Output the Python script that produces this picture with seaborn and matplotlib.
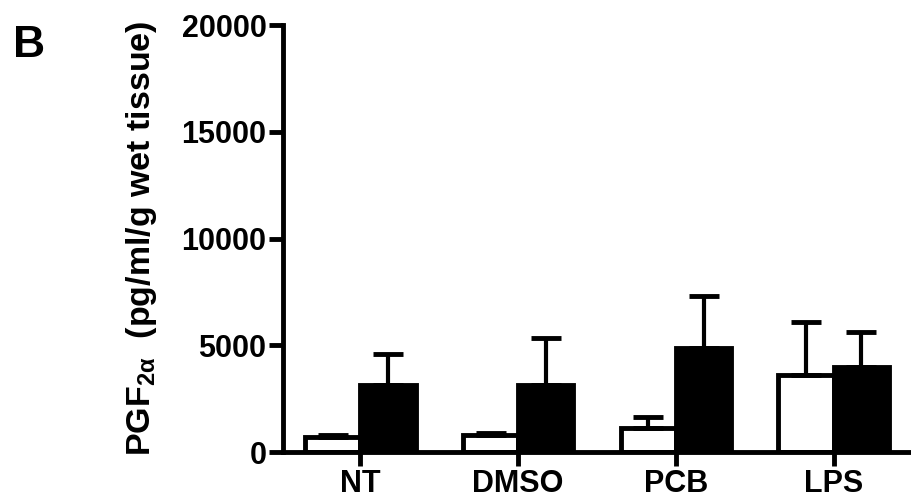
import pandas as pd
import seaborn as sns
import matplotlib.pyplot as plt
import numpy as np

# values
groups = ["NT", "DMSO", "PCB", "LPS"]
whiteMeans = [700, 800, 1140, 3620]
whiteErrs = [110, 90, 480, 2490]
blackMeans = [3120, 3140, 4890, 3980]
blackErrs = [1460, 2190, 2440, 1620]
yTicks = [0, 5000, 10000, 15000, 20000]

sns.set_theme(style="ticks", rc={
    "text.color": "black", "axes.labelcolor": "black", "axes.edgecolor": "black",
    "xtick.color": "black", "ytick.color": "black",
})
plt.rcParams['font.family'] = ['Liberation Sans', 'DejaVu Sans']
plt.rcParams['font.weight'] = 'bold'
plt.rcParams['mathtext.fontset'] = 'custom'
plt.rcParams['mathtext.rm'] = 'Liberation Sans:bold'
plt.rcParams['mathtext.it'] = 'Liberation Sans:bold'
plt.rcParams['mathtext.bf'] = 'Liberation Sans:bold'

df = pd.DataFrame({
    "group": groups * 2,
    "series": ["white"] * 4 + ["black"] * 4,
    "value": whiteMeans + blackMeans,
    "err": whiteErrs + blackErrs,
})

fig = plt.figure(figsize=(9.11, 5.01), dpi=100)
ax = fig.add_axes([0.3107, 0.0978, 0.6893, 0.852])

lw = 3.5
sns.barplot(data=df, x="group", y="value", hue="series", hue_order=["white", "black"],
            palette={"white": "white", "black": "black"}, width=0.7, errorbar=None,
            edgecolor="black", linewidth=lw, legend=False, ax=ax)

# error bars (upper only) positioned on the bars seaborn drew
bars = [p for p in ax.patches]
xs = [p.get_x() + p.get_width() / 2 for p in bars]
hs = [p.get_height() for p in bars]
errs = whiteErrs + blackErrs
ax.errorbar(xs, hs, yerr=[np.zeros(len(errs)), errs], fmt="none", ecolor="black",
            elinewidth=3, capsize=10.5, capthick=3.5, zorder=1)

ax.set_ylim(0, 20000)
ax.set_xlim(-0.49, 3.49)
ax.set_yticks(yTicks)
ax.set_yticklabels([str(t) for t in yTicks])
ax.tick_params(axis="both", direction="out", length=10, width=lw, labelsize=22, pad=2)
for lab in ax.get_xticklabels() + ax.get_yticklabels():
    lab.set_fontweight("bold")

sns.despine(ax=ax)
ax.spines["left"].set_linewidth(lw)
ax.spines["bottom"].set_linewidth(lw)
ax.spines["left"].set_capstyle("projecting")
ax.spines["bottom"].set_capstyle("projecting")

ax.set_xlabel("")
ax.set_ylabel(r"PGF$_{2\alpha}$  (pg/ml/g wet tissue)", fontsize=24.5, fontweight="bold")
ax.yaxis.set_label_coords(-0.198, 0.5)

fig.text(0.014, 0.95, "B", fontsize=32, fontweight="bold", va="top", ha="left")

fig.savefig("out.png", dpi=100)
